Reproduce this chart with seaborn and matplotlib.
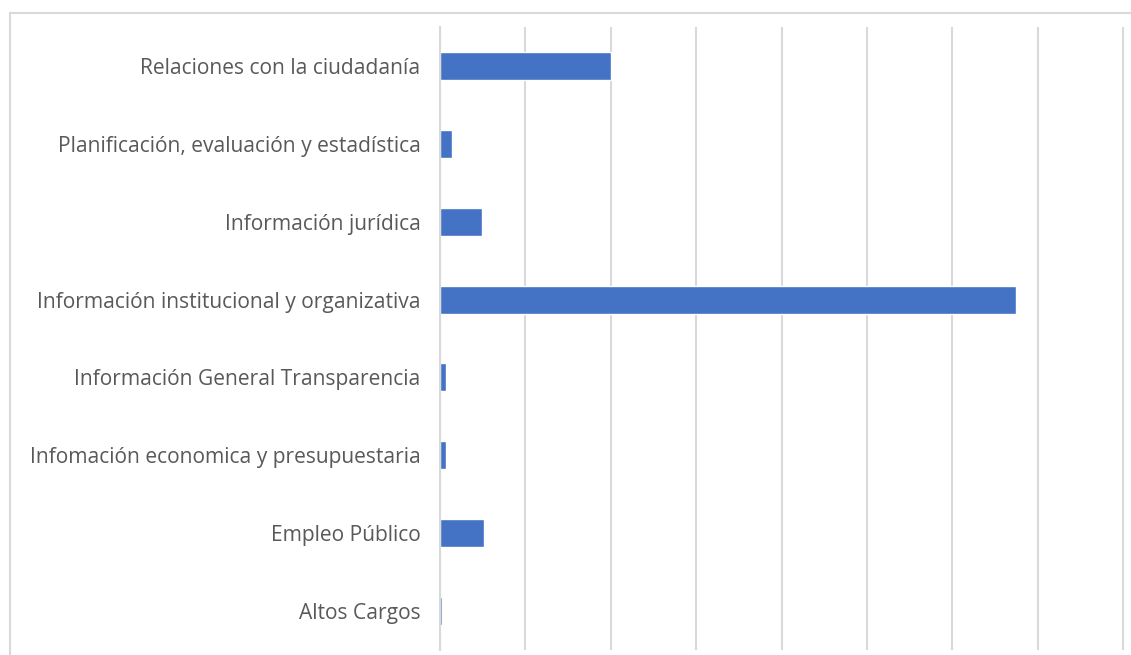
import matplotlib
matplotlib.use('Agg')
import matplotlib.pyplot as plt
import seaborn as sns
import pandas as pd
from matplotlib.patches import Rectangle

# categorias (de arriba a abajo) y valores
categorias = ['Relaciones con la ciudadanía',
              'Planificación, evaluación y estadística',
              'Información jurídica',
              'Información institucional y organizativa',
              'Información General Transparencia',
              'Infomación economica y presupuestaria',
              'Empleo Público',
              'Altos Cargos']
valores = [200, 14, 49, 674, 7, 7, 51, 2]

tabela = pd.DataFrame({'categoria': categorias, 'valor': valores})

sns.set_style('white')
plt.rcParams['font.family'] = ['Open Sans', 'DejaVu Sans']

fig = plt.figure(figsize=(11.31, 6.55), dpi=100)
ax = fig.add_axes([440 / 1131, 5 / 655, 1 - 440 / 1131, 623 / 655])

sns.barplot(data=tabela, x='valor', y='categoria', orient='h',
            color='#4472C4', saturation=1, width=0.36, ax=ax)

ax.set_xlim(0, 809)
ax.set_xticks(range(0, 801, 100))
ax.set_xticklabels([])
ax.grid(axis='x', color='#d9d9d9', linewidth=1.5)
ax.set_axisbelow(True)
ax.set_xlabel('')
ax.set_ylabel('')
ax.tick_params(axis='y', length=0, pad=14, labelsize=15.1, labelcolor='#595959')
ax.tick_params(axis='x', length=0)
for lado in ['top', 'right', 'bottom']:
    ax.spines[lado].set_visible(False)
ax.spines['left'].set_color('#d9d9d9')
ax.spines['left'].set_linewidth(1.5)

# borde del area del grafico
fig.patches.append(Rectangle((10 / 1131, -0.1), 1.2, (655 - 13) / 655 + 0.1,
                             transform=fig.transFigure, fill=False,
                             edgecolor='#d9d9d9', linewidth=1.5))

fig.savefig('out.png', dpi=100)
